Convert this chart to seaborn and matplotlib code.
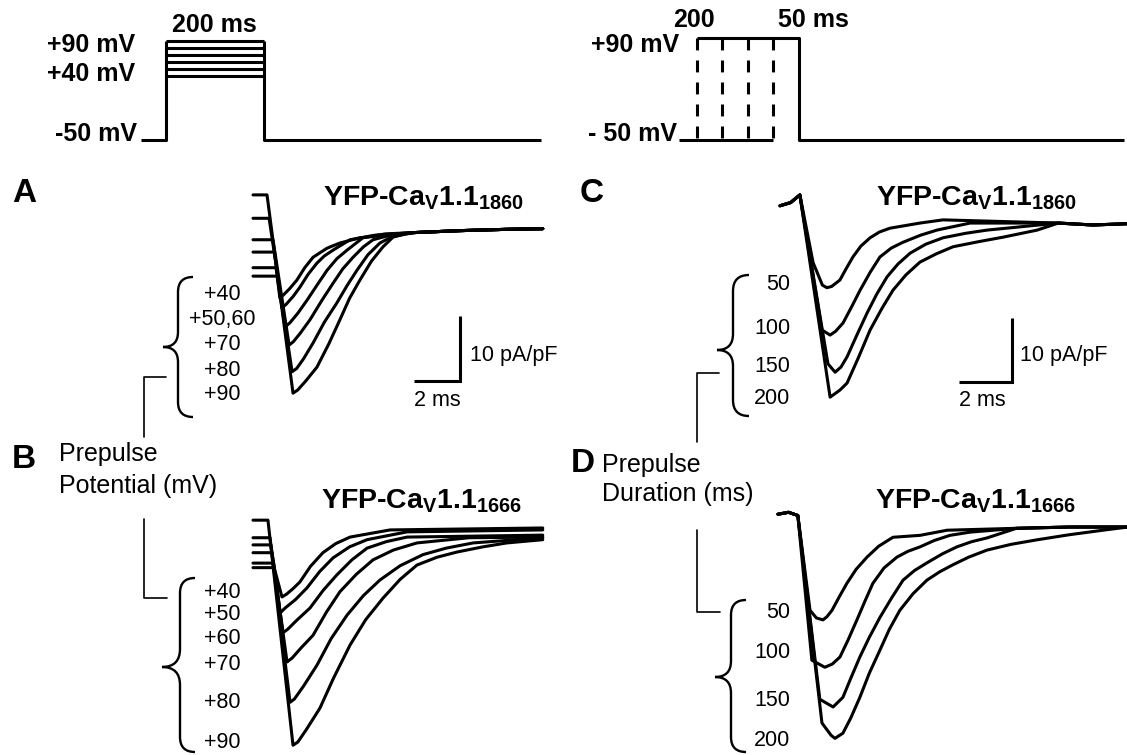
import matplotlib
matplotlib.use("Agg")
import matplotlib.pyplot as plt
import numpy as np
import pandas as pd
import seaborn as sns
from matplotlib.path import Path
from matplotlib.patches import PathPatch

sns.set_theme(style="white")
plt.rcParams['font.family'] = ['Liberation Sans', 'DejaVu Sans']
plt.rcParams['mathtext.fontset'] = 'custom'
plt.rcParams['mathtext.rm'] = 'Liberation Sans'
plt.rcParams['mathtext.bf'] = 'Liberation Sans:bold'

# ---------------- data ----------------
# voltage protocols
hold_mV = -50
protoL_levels = [40, 50, 60, 70, 80, 90]        # mV
protoL_duration = 200                            # ms
protoL_pre, protoL_post = 51, 565                # ms of holding before / after
protoR_level = 90                                # mV
protoR_durations = [200, 150, 100, 50]           # ms
protoR_pre, protoR_post = 35, 637

# current traces: time (ms), current density (pA/pF)
A_labels = ["+40", "+50", "+60", "+70", "+80", "+90"]
A_t = {
    "+40": [0, 1.05, 1.17, 1.35, 1.6, 1.91, 2.25, 2.61, 3.22, 3.78, 4.65],
    "+50": [0, 1.0, 1.26, 1.45, 1.75, 2.04, 2.4, 2.78, 3.1, 3.48, 4.22, 5.3],
    "+60": [0, 0.93, 1.39, 1.6, 1.95, 2.35, 2.8, 3.22, 3.65, 4.09, 4.78, 5.74],
    "+70": [0, 0.87, 1.57, 1.75, 2.05, 2.48, 3.0, 3.48, 3.9, 4.35, 4.8, 5.22, 6.17],
    "+80": [0, 0.7, 1.70, 1.9, 2.2, 2.61, 3.1, 3.65, 4.1, 4.52, 5.0, 5.52, 6.0, 6.4],
    "+90": [0, 0.61, 1.74, 1.95, 2.3, 2.78, 3.3, 3.78, 4.2, 4.65, 5.15, 5.65, 6.09, 6.6],
}
A_I = {
    "+40": [-7.1, -7.1, -10.5, -9.9, -9.0, -7.7, -5.8, -4.2, -2.8, -2.0, -1.2],
    "+50": [-5.8, -5.8, -12.0, -11.4, -10.2, -8.8, -6.8, -5.1, -4.0, -3.1, -1.5, -0.8],
    "+60": [-3.4, -3.4, -14.9, -14.3, -12.8, -10.8, -8.4, -6.2, -4.4, -3.1, -1.2, -0.6],
    "+70": [-1.5, -1.5, -17.7, -17.2, -15.9, -13.8, -10.8, -8.2, -6.0, -4.2, -2.6, -1.5, -0.6],
    "+80": [1.8, 1.8, -21.8, -21.3, -19.8, -17.4, -14.2, -11.2, -8.5, -6.2, -3.8, -2.0, -1.1, -0.8],
    "+90": [5.4, 5.4, -25.1, -24.6, -23.2, -21.1, -17.5, -13.8, -10.5, -7.7, -4.8, -2.6, -1.1, -0.6],
}
A_tail_t = [7.0, 9.0, 11.0, 12.6]
A_tail_I = [-0.4, -0.1, 0.1, 0.2]

B_labels = ["+40", "+50", "+60", "+70", "+80", "+90"]
B_t = {
    "+40": [0, 0.92, 1.26, 1.45, 1.75, 2.04, 2.5, 3.04, 3.6, 4.22, 5.96, 12.6],
    "+50": [0, 0.9, 1.17, 1.4, 1.85, 2.35, 2.9, 3.48, 4.2, 4.96, 6.7, 12.6],
    "+60": [0, 0.83, 1.30, 1.5, 1.9, 2.48, 3.05, 3.65, 4.3, 4.96, 5.8, 6.7, 12.6],
    "+70": [0, 0.78, 1.48, 1.7, 2.1, 2.61, 3.2, 3.78, 4.5, 5.22, 6.1, 7.13, 9.4, 12.6],
    "+80": [0, 0.74, 1.61, 1.8, 2.2, 2.78, 3.4, 4.09, 4.8, 5.52, 6.4, 7.39, 8.4, 9.57, 12.6],
    "+90": [0, 0.65, 1.74, 1.95, 2.3, 2.91, 3.5, 4.22, 4.9, 5.65, 6.4, 7.13, 8.0, 8.87,
            10.0, 11.04, 12.6],
}
B_I = {
    "+40": [-5.8, -5.8, -10.3, -9.9, -9.0, -8.0, -5.6, -3.5, -2.1, -1.1, 0.0, 0.3],
    "+50": [-5.1, -5.1, -12.8, -12.0, -10.7, -8.9, -6.4, -4.3, -2.6, -1.5, -0.3, 0.0],
    "+60": [-3.5, -3.5, -15.8, -15.3, -13.9, -12.0, -9.3, -6.9, -4.6, -2.8, -1.8, -1.1, -0.8],
    "+70": [-2.3, -2.3, -20.3, -19.7, -18.1, -16.2, -12.6, -9.5, -6.8, -4.6, -3.1, -2.0, -1.2, -1.1],
    "+80": [-1.2, -1.2, -26.5, -26.0, -24.0, -20.8, -16.7, -13.1, -10.1, -7.7, -5.5, -3.8,
            -2.8, -2.0, -1.2],
    "+90": [1.5, 1.5, -33.1, -32.6, -30.8, -27.4, -22.8, -17.7, -13.8, -10.5, -7.6, -5.4,
            -4.2, -3.4, -2.6, -2.0, -1.5],
}
B_tail_t = []
B_tail_I = []

C_labels = ["50", "100", "150", "200"]
C_t = {
    "50": [0, 0.4, 0.75, 1.25, 1.6, 1.77, 1.95, 2.26, 2.5, 2.75, 3.05, 3.40, 3.75, 4.15,
           5.28, 6.15],
    "100": [0, 0.4, 0.75, 1.58, 1.89, 2.1, 2.38, 2.7, 3.02, 3.4, 3.77, 4.2, 4.64, 5.3, 5.92, 7.17],
    "150": [0, 0.4, 0.75, 1.81, 2.08, 2.3, 2.53, 2.9, 3.28, 3.65, 4.04, 4.45, 4.91, 5.5, 6.15,
            7.0, 7.81],
    "200": [0, 0.4, 0.75, 1.89, 2.26, 2.53, 2.95, 3.40, 3.85, 4.26, 4.75, 5.28, 5.9, 6.53,
            7.5, 8.42, 9.70],
}
C_I = {
    "50": [3.0, 3.5, 4.7, -5.9, -9.4, -9.8, -9.6, -8.6, -6.8, -5.0, -3.3, -2.0, -1.1, -0.5,
           0.3, 0.8],
    "100": [3.0, 3.5, 4.7, -16.4, -17.2, -16.6, -15.3, -12.8, -10.2, -7.4, -5.0, -3.6, -2.7,
            -1.6, -0.8, 0.3],
    "150": [3.0, 3.5, 4.7, -21.7, -23.0, -22.2, -20.6, -17.2, -13.8, -10.8, -8.1, -6.1, -4.4,
            -3.0, -2.0, -1.3, -0.8],
    "200": [3.0, 3.5, 4.7, -26.9, -25.8, -24.7, -20.8, -16.4, -13.0, -10.2, -7.8, -5.8, -4.5,
            -3.4, -2.6, -1.9, -0.8],
}
C_tail_t = [10.5, 11.8, 13.1]
C_tail_I = [0.3, 0.0, 0.2]

D_labels = ["50", "100", "150", "200"]
D_t = {
    "50": [0, 0.4, 0.75, 1.21, 1.45, 1.70, 1.85, 2.04, 2.3, 2.60, 2.95, 3.36, 3.8, 4.34,
           5.36, 6.38],
    "100": [0, 0.4, 0.75, 1.28, 1.77, 2.05, 2.34, 2.65, 2.98, 3.28, 3.58, 4.0, 4.49, 4.9,
            5.36, 5.9, 6.49, 7.25],
    "150": [0, 0.4, 0.75, 1.58, 2.08, 2.45, 2.75, 3.09, 3.45, 3.85, 4.3, 4.72, 5.15, 5.62,
            6.2, 6.75, 7.3, 7.89],
    "200": [0, 0.4, 0.75, 1.66, 2.0, 2.15, 2.45, 2.75, 3.09, 3.45, 3.85, 4.2, 4.60, 5.1,
            5.62, 6.1, 6.60, 7.2, 7.89, 8.8, 9.77, 11.0, 12.26],
}
D_I = {
    "50": [2.0, 2.3, 1.8, -13.0, -14.2, -14.5, -14.0, -13.0, -11.0, -8.8, -6.6, -4.7, -3.0,
           -1.6, -1.3, -0.5],
    "100": [2.0, 2.3, 1.8, -20.8, -21.9, -21.4, -20.3, -17.6, -14.5, -11.6, -8.8, -6.4, -4.7,
            -3.8, -3.1, -2.1, -1.3, -0.8],
    "150": [2.0, 2.3, 1.8, -26.9, -28.1, -26.6, -23.6, -20.3, -17.2, -14.1, -11.0, -8.3, -6.8,
            -5.6, -4.2, -3.1, -2.3, -1.7],
    "200": [2.0, 2.3, 1.8, -30.6, -32.5, -33.0, -32.2, -29.8, -26.6, -22.8, -19.2, -16.0,
            -13.0, -10.4, -8.3, -7.0, -5.9, -4.7, -3.6, -2.7, -2.0, -1.2, -0.5],
}
D_tail_t = [9.0, 11.0, 13.2]
D_tail_I = [-0.2, 0.0, 0.0]

scale_ms, scale_pApF = 2, 10

# ---------------- figure ----------------
W, H = 1127, 755
fig = plt.figure(figsize=(W / 100, H / 100), dpi=100)
fig.patch.set_facecolor("white")


def add_ax(x0, y0, x1, y1):
    ax = fig.add_axes([x0 / W, 1 - y1 / H, (x1 - x0) / W, (y1 - y0) / H])
    ax.set_axis_off()
    return ax


bg = add_ax(0, 0, W, H)
bg.set_xlim(0, W)
bg.set_ylim(H, 0)

LW = 2.2
K = "black"

# ---- left protocol ----
pL = add_ax(130, 0, 560, 160)
pL.set_xlim(-73.5, 804)
pL.set_ylim(-78.2, 147.4)
top = max(protoL_levels)
pL.plot([-protoL_pre, 0, 0], [hold_mV, hold_mV, top], color=K, lw=LW, solid_capstyle='butt')
for lv in protoL_levels:
    pL.plot([0, protoL_duration], [lv, lv], color=K, lw=LW, solid_capstyle='butt')
pL.plot([protoL_duration, protoL_duration, protoL_duration + protoL_post],
        [top, hold_mV, hold_mV], color=K, lw=LW, solid_capstyle='butt')

# ---- right protocol ----
pR = add_ax(560, 0, 1127, 160)
pR.set_xlim(-468.6, 643.1)
pR.set_ylim(-77.4, 142.1)
dmax, dmin = max(protoR_durations), min(protoR_durations)
pR.plot([-dmax, 0, 0, protoR_post], [protoR_level, protoR_level, hold_mV, hold_mV],
        color=K, lw=LW, solid_capstyle='butt')
pR.plot([-dmax - protoR_pre, -dmin], [hold_mV, hold_mV], color=K, lw=LW, solid_capstyle='butt')
for d in protoR_durations:
    pR.plot([-d, -d], [protoR_level, hold_mV], color=K, lw=LW, linestyle=(0, (3.9, 3.3)))


# ---- traces ----
def traces_df(labels, tdict, idict, tail_t, tail_I):
    rows = []
    for lab in labels:
        tt = list(tdict[lab])
        ii = list(idict[lab])
        for a, b in zip(tail_t, tail_I):
            if a > tt[-1]:
                tt.append(a)
                ii.append(b)
        for a, b in zip(tt, ii):
            rows.append({"trace": lab, "t": a, "I": b})
    return pd.DataFrame(rows)


def draw_panel(box, xlim, ylim, labels, tdict, idict, tail_t, tail_I, sbar=None):
    ax = add_ax(*box)
    df = traces_df(labels, tdict, idict, tail_t, tail_I)
    sns.lineplot(data=df, x="t", y="I", units="trace", estimator=None, sort=False,
                 color=K, linewidth=LW, ax=ax, legend=False)
    ax.set_xlim(*xlim)
    ax.set_ylim(*ylim)
    ax.set_axis_off()
    if sbar is not None:
        x1, y1 = sbar
        ax.plot([x1 - scale_ms, x1, x1], [y1, y1, y1 + scale_pApF], color=K, lw=LW,
                solid_capstyle='butt', solid_joinstyle='miter')
    return ax


axA = draw_panel((240, 175, 560, 420), (-0.565, 13.35), (-29.23, 8.46),
                 A_labels, A_t, A_I, A_tail_t, A_tail_I, sbar=(9.0, -23.3))
axB = draw_panel((240, 500, 560, 755), (-0.565, 13.35), (-34.6, 4.6),
                 B_labels, B_t, B_I, B_tail_t, B_tail_I)
axC = draw_panel((770, 175, 1127, 420), (-0.377, 13.09), (-30.47, 7.81),
                 C_labels, C_t, C_I, C_tail_t, C_tail_I, sbar=(8.75, -24.5))
axD = draw_panel((770, 500, 1127, 755), (-0.30, 13.17), (-35.6, 4.22),
                 D_labels, D_t, D_I, D_tail_t, D_tail_I)


# ---- annotations (figure pixel space) ----
def brace(x_end, x_sp, x_tip, y_top, y_mid, y_bot, lw=1.7):
    r = x_end - x_sp
    r2 = x_sp - x_tip
    verts = [(x_end, y_top), (x_sp, y_top), (x_sp, y_top + r),
             (x_sp, y_mid - r2), (x_sp, y_mid), (x_tip, y_mid),
             (x_sp, y_mid), (x_sp, y_mid + r2),
             (x_sp, y_bot - r), (x_sp, y_bot), (x_end, y_bot)]
    codes = [Path.MOVETO, Path.CURVE3, Path.CURVE3, Path.LINETO, Path.CURVE3, Path.CURVE3,
             Path.CURVE3, Path.CURVE3, Path.LINETO, Path.CURVE3, Path.CURVE3]
    bg.add_patch(PathPatch(Path(verts, codes), fill=False, lw=lw, ec=K))


brace(193, 178, 163, 277, 347, 417)
brace(195, 180, 162, 578, 667, 752)
brace(749, 733, 717, 275, 350, 416)
brace(746, 731, 715, 600, 677, 752)

thin = 1.2
bg.plot([166, 144, 144], [377, 377, 437], color=K, lw=thin)
bg.plot([144, 144, 167], [519, 598, 598], color=K, lw=thin)
bg.plot([719, 697, 697], [373, 373, 442], color=K, lw=thin)
bg.plot([697, 697, 720], [530, 612, 612], color=K, lw=thin)

# protocol labels
pf = dict(fontsize=18, fontweight="bold", color=K)
bg.text(214, 25, "200 ms", ha="center", va="center", **pf)
bg.text(135, 45, "+90 mV", ha="right", va="center", **pf)
bg.text(135, 74, "+40 mV", ha="right", va="center", **pf)
bg.text(137, 134, "-50 mV", ha="right", va="center", **pf)
bg.text(679, 45, "+90 mV", ha="right", va="center", **pf)
bg.text(677, 134, "- 50 mV", ha="right", va="center", **pf)
bg.text(694, 20, "200", ha="center", va="center", **pf)
bg.text(813, 20, "50 ms", ha="center", va="center", **pf)

# panel letters
lf = dict(fontsize=24, fontweight="bold", color=K, ha="left", va="center")
bg.text(12, 193, "A", **lf)
bg.text(12, 459, "B", **lf)
bg.text(580, 193, "C", **lf)
bg.text(571, 463, "D", **lf)

# titles
tf = dict(fontsize=20.5, fontweight="bold", color=K, ha="left", va="baseline")
bg.text(323, 205, r"YFP-Ca$_\mathbf{V}$1.1$_\mathbf{1860}$", **tf)
bg.text(321, 508, r"YFP-Ca$_\mathbf{V}$1.1$_\mathbf{1666}$", **tf)
bg.text(876, 205, r"YFP-Ca$_\mathbf{V}$1.1$_\mathbf{1860}$", **tf)
bg.text(875, 508, r"YFP-Ca$_\mathbf{V}$1.1$_\mathbf{1666}$", **tf)

# axis-like labels
xf = dict(fontsize=18, color=K, ha="left", va="center")
bg.text(59, 454, "Prepulse", **xf)
bg.text(59, 486, "Potential (mV)", **xf)
bg.text(602, 465, "Prepulse", **xf)
bg.text(602, 494, "Duration (ms)", **xf)

# bracket labels
bf = dict(fontsize=15.5, color=K, va="center")
for lab, y in zip(["+40", "+50,60", "+70", "+80", "+90"], [295, 320, 345, 370, 395]):
    bg.text(222, y, lab, ha="center", **bf)
for lab, y in zip(B_labels, [592, 615, 638, 665, 702, 742]):
    bg.text(222, y, lab, ha="center", **bf)
for lab, y in zip(C_labels, [285, 328, 367, 399]):
    bg.text(790, y, lab, ha="right", **bf)
for lab, y in zip(D_labels, [612, 653, 700, 740]):
    bg.text(790, y, lab, ha="right", **bf)

# scale-bar labels
bg.text(470, 355, "10 pA/pF", ha="left", **bf)
bg.text(437, 401, "2 ms", ha="center", **bf)
bg.text(1020, 355, "10 pA/pF", ha="left", **bf)
bg.text(982, 401, "2 ms", ha="center", **bf)

fig.savefig("out.png", dpi=100, facecolor="white")
